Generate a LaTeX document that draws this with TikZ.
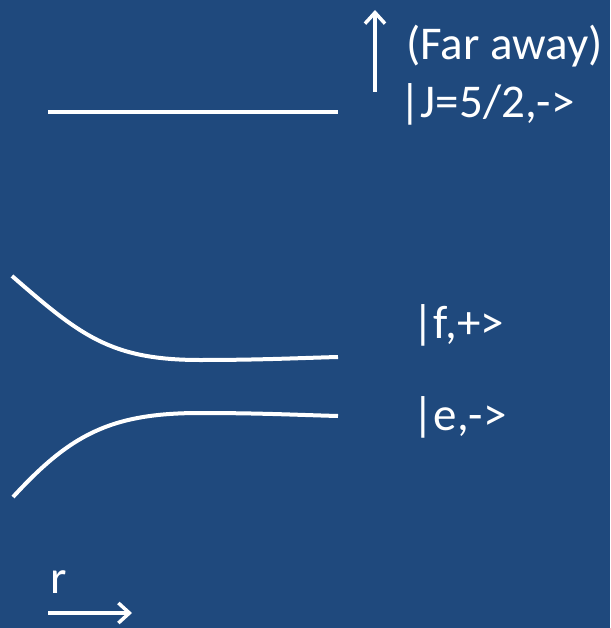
\documentclass[tikz,border=0pt]{standalone}
\usepackage{fontspec}
\setmainfont{Carlito}
\usetikzlibrary{arrows.meta}
\definecolor{bgblue}{HTML}{1F497D}
\begin{document}
\begin{tikzpicture}[x=1pt,y=-1pt,
  wline/.style={draw=white,line width=4pt},
  warrow/.style={draw=white,line width=4pt,-{Straight Barb[length=11pt,width=20pt,line width=3.5pt]}},
  lbl/.style={text=white,anchor=base west,inner sep=0pt,font=\fontsize{47}{56}\selectfont}]
\fill[bgblue] (0,0) rectangle (610,628);
\useasboundingbox (0,0) rectangle (610,628);
% far level
\coordinate (jl) at (48,112);
\coordinate (jr) at (338,112);
\draw[wline] (jl) -- (jr);
\coordinate (ub) at (375,92);
\coordinate (ut) at (375,10);
\draw[warrow] (ub) -- (ut);
\node[lbl] (far) at (406,60) {(Far away)};
\node[lbl] (jlab) at (399,118) {|J=5/2,->};
% upper curve
\coordinate (fa) at (12,276);
\coordinate (fb) at (338,357);
\draw[wline] (fa) .. controls (80,335) and (110,360) .. (200,360) .. controls (260,360) and (300,358) .. (fb);
% lower curve
\coordinate (ea) at (13,497);
\coordinate (eb) at (338,416);
\draw[wline] (ea) .. controls (70,435) and (110,413) .. (200,413) .. controls (260,413) and (300,415) .. (eb);
\node[lbl] (flab) at (412,338) {|f,+>};
\node[lbl] (elab) at (412,430) {|e,->};
% r arrow
\node[lbl] (r) at (50,593) {r};
\coordinate (ra) at (48,613);
\coordinate (rb) at (132,613);
\draw[warrow] (ra) -- (rb);
\end{tikzpicture}
\end{document}
